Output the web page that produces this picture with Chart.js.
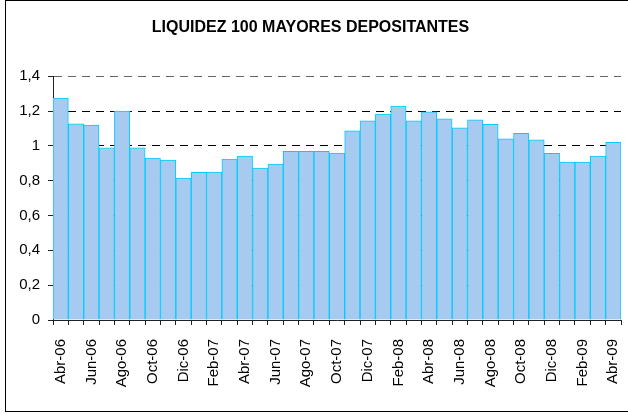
<!DOCTYPE html>
<html>
<head>
<meta charset="utf-8">
<script src="https://cdn.jsdelivr.net/npm/chart.js@4/dist/chart.umd.min.js"></script>
<style>
  html, body { margin: 0; padding: 0; background: #fff; }
  #wrap { position: relative; width: 628px; height: 414px; overflow: hidden; }
  #frame { position: absolute; left: 5px; top: 0; width: 700px; height: 412px; border: 1px solid #000; box-sizing: border-box; pointer-events: none; }
  canvas { position: absolute; left: 0; top: 0; }
</style>
</head>
<body>
<div id="wrap">
  <canvas id="chart" width="628" height="414"></canvas>
  <div id="frame"></div>
</div>
<script>
const months = ["Ene", "Feb", "Mar", "Abr", "May", "Jun", "Jul", "Ago", "Sep", "Oct", "Nov", "Dic"];

// Abr-06 .. Abr-09, monthly
const categories = [];
for (let i = 0; i < 37; i++) {
  const m = (3 + i) % 12;
  const y = 6 + Math.floor((3 + i) / 12);
  categories.push(months[m] + "-0" + y);
}

const liquidez = [
  1.274, 1.126, 1.12, 0.988, 1.2, 0.988, 0.93, 0.919, 0.815, 0.848,
  0.85, 0.924, 0.942, 0.873, 0.896, 0.969, 0.969, 0.969, 0.959, 1.087,
  1.143, 1.183, 1.229, 1.143, 1.195, 1.155, 1.103, 1.149, 1.124, 1.04,
  1.072, 1.034, 0.957, 0.907, 0.907, 0.942, 1.02
];

const yTicks = [0, 0.2, 0.4, 0.6, 0.8, 1, 1.2, 1.4];

const font = "'Liberation Sans', Arial, sans-serif";

new Chart(document.getElementById("chart").getContext("2d"), {
  type: "bar",
  data: {
    labels: categories,
    datasets: [{
      label: "Liquidez",
      data: liquidez,
      backgroundColor: "#A6CAF0",
      borderColor: "#00CCFF",
      borderWidth: 1,
      barPercentage: 1,
      categoryPercentage: 1
    }]
  },
  options: {
    responsive: false,
    animation: false,
    layout: { padding: { left: 0, right: 7, top: 0, bottom: 0 } },
    plugins: {
      legend: { display: false },
      tooltip: { enabled: false },
      title: {
        display: true,
        text: "LIQUIDEZ 100 MAYORES DEPOSITANTES",
        color: "#000",
        font: { family: font, size: 16, weight: "bold" },
        padding: { top: 18, bottom: 39 }
      }
    },
    scales: {
      x: {
        offset: true,
        grid: {
          display: true,
          offset: true,
          drawOnChartArea: false,
          drawTicks: true,
          tickLength: 5,
          tickColor: "#222"
        },
        border: { color: "#222", width: 1 },
        ticks: {
          autoSkip: false,
          maxRotation: 90,
          minRotation: 90,
          padding: 14,
          color: "#000",
          font: { family: font, size: 15 },
          callback: (v, i) => (i % 2 === 0 ? categories[i] : "")
        },
        afterFit: (s) => {
          s.height = 94;
          s.paddingLeft = 0;
          s.paddingRight = 0;
        }
      },
      y: {
        min: 0,
        max: 1.4,
        afterBuildTicks: (s) => { s.ticks = yTicks.map(v => ({ value: v })); },
        grid: {
          color: (c) => {
            if (!c.tick || c.tick.value < 0.001) return "rgba(0,0,0,0)";
            return c.tick.value > 1.3 ? "#666" : "#000";
          },
          tickColor: "#222",
          tickLength: 5,
          drawTicks: true
        },
        border: { color: "#222", width: 1, dash: [8, 6] },
        ticks: {
          padding: 8,
          color: "#000",
          font: { family: font, size: 15 },
          callback: (v) => String(Math.round(v * 10) / 10).replace(".", ",")
        },
        afterFit: (s) => { s.width = 53; }
      }
    }
  }
});
</script>
</body>
</html>
